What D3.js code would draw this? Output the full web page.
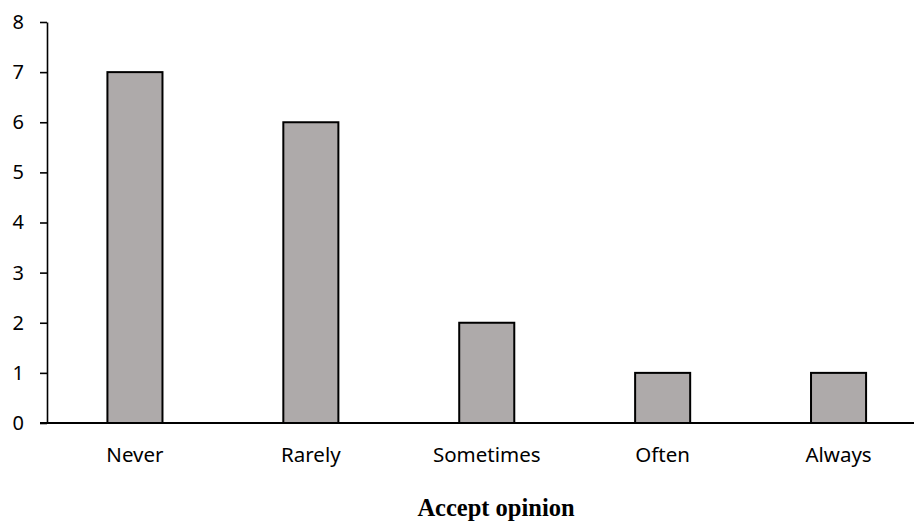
<!DOCTYPE html>
<html>
<head>
<meta charset="utf-8">
<script src="https://d3js.org/d3.v7.min.js"></script>
<style>
  body { margin: 0; background: #fff; }
  svg { display: block; }
</style>
</head>
<body>
<div id="main"></div>
<script>
var categories = ["Never", "Rarely", "Sometimes", "Often", "Always"];
var counts = [7, 6, 2, 1, 1];
var yTicks = [0, 1, 2, 3, 4, 5, 6, 7, 8];
var axisTitle = "Accept opinion";

var ctx = {
    w: 914,
    h: 522,
    left: 47,
    right: 926.5,
    top: 22,
    bottom: 423,
};

var svg = d3.select("#main").append("svg")
    .attr("width", ctx.w)
    .attr("height", ctx.h);

var x = d3.scaleBand()
    .domain(categories)
    .range([ctx.left, ctx.right])
    .padding(0);

var y = d3.scaleLinear()
    .domain([0, 8])
    .range([ctx.bottom, ctx.top]);

var barW = x.bandwidth() * 0.313;

// bars
svg.selectAll("rect.bar")
    .data(categories)
    .enter()
    .append("rect")
    .attr("class", "bar")
    .attr("x", function (d) { return x(d) + (x.bandwidth() - barW) / 2; })
    .attr("y", function (d, i) { return y(counts[i]); })
    .attr("width", barW)
    .attr("height", function (d, i) { return y(0) - y(counts[i]); })
    .style("fill", "#aeaaaa")
    .style("stroke", "#000")
    .style("stroke-width", 2);

// y axis
var yAxis = svg.append("g")
    .attr("transform", "translate(" + ctx.left + ",0)")
    .call(d3.axisLeft(y).tickValues(yTicks).tickSize(7).tickPadding(16).tickSizeOuter(0));
yAxis.select(".domain").attr("stroke", "#000").attr("stroke-width", 1.6);
yAxis.selectAll(".tick line").attr("stroke", "#000").attr("stroke-width", 1.6);
yAxis.selectAll("text")
    .attr("fill", "#000")
    .style("font-family", "'Noto Sans', sans-serif")
    .style("font-size", "20px");

// x axis line
svg.append("line")
    .attr("x1", ctx.left - 7)
    .attr("x2", ctx.w)
    .attr("y1", y(0))
    .attr("y2", y(0))
    .attr("stroke", "#000")
    .attr("stroke-width", 2);

// x labels
svg.selectAll("text.xlab")
    .data(categories)
    .enter()
    .append("text")
    .attr("class", "xlab")
    .attr("x", function (d) { return x(d) + x.bandwidth() / 2; })
    .attr("y", 462)
    .attr("text-anchor", "middle")
    .style("font-family", "'Noto Sans', sans-serif")
    .style("font-size", "20.5px")
    .text(function (d) { return d; });

svg.append("text")
    .attr("x", 496)
    .attr("y", 516)
    .attr("text-anchor", "middle")
    .style("font-family", "'Liberation Serif', 'Times New Roman', serif")
    .style("font-weight", "bold")
    .style("font-size", "24.5px")
    .text(axisTitle);
</script>
</body>
</html>
